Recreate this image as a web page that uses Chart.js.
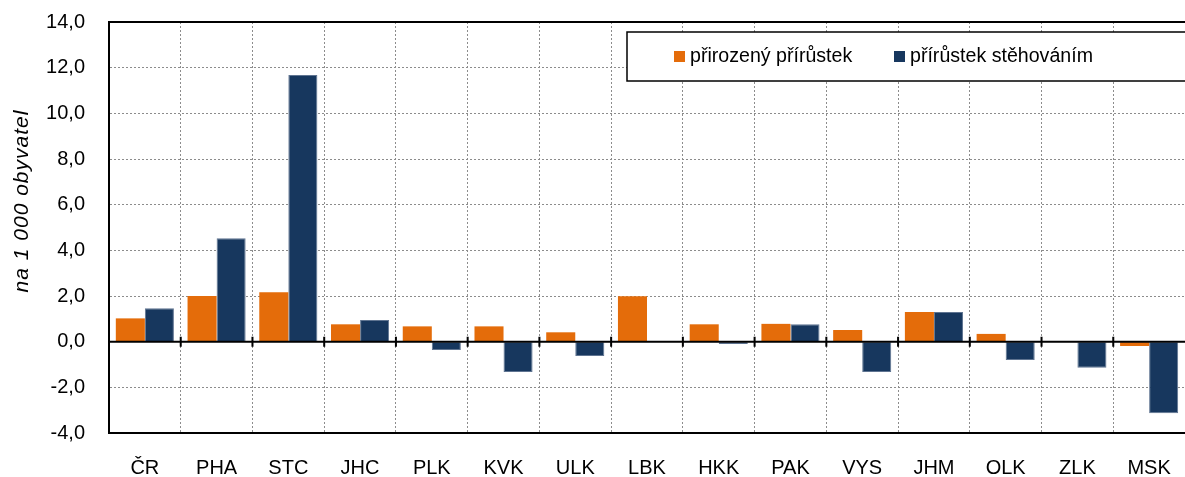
<!DOCTYPE html>
<html>
<head>
<meta charset="utf-8">
<script src="https://cdn.jsdelivr.net/npm/chart.js@4.4.0/dist/chart.umd.min.js"></script>
<style>
html, body {
    margin: 0;
    padding: 0;
    background: #fff;
}
#wrap {
    width: 1185px;
    height: 477px;
}
</style>
</head>
<body>
<div id="wrap"><canvas id="bilance"></canvas></div>
<script>
var kraje = ["ČR", "PHA", "STC", "JHC", "PLK", "KVK", "ULK", "LBK", "HKK", "PAK", "VYS", "JHM", "OLK", "ZLK", "MSK"];
var prirozeny = [1.02, 2.0, 2.16, 0.76, 0.67, 0.67, 0.41, 1.99, 0.76, 0.78, 0.51, 1.3, 0.34, 0.03, -0.19];
var stehovani = [1.46, 4.53, 11.68, 0.95, -0.36, -1.33, -0.63, 0.03, -0.1, 0.76, -1.33, 1.3, -0.8, -1.14, -3.14];
var nazvyRad = ["přirozený přírůstek", "přírůstek stěhováním"];
var barvy = ["#E46C0A", "#17375E"];
var osaY = { min: -4, max: 14, krok: 2 };
var titulekY = "na 1 000 obyvatel";

var fontRodina = "'Liberation Sans', Arial, sans-serif";

// nulova cara s carkami mezi kraji, horni okraj a legenda v ploše grafu
var doplnky = {
    id: "doplnky",
    afterDatasetsDraw: function(chart) {
        var ctx = chart.ctx;
        var a = chart.chartArea;
        var x = chart.scales.x;
        var y = chart.scales.y;
        var y0 = y.getPixelForValue(0);

        ctx.save();
        ctx.strokeStyle = "#000";
        ctx.lineWidth = 2;
        ctx.beginPath();
        ctx.moveTo(a.left, y0);
        ctx.lineTo(a.right, y0);
        for (var i = 1; i < kraje.length; i++) {
            var xb = (x.getPixelForValue(i - 1) + x.getPixelForValue(i)) / 2;
            ctx.moveTo(xb, y0 - 5);
            ctx.lineTo(xb, y0 + 5);
        }
        ctx.moveTo(a.left - 1, a.top);
        ctx.lineTo(a.right, a.top);
        ctx.stroke();

        // legenda
        var lx = 627, ly = 32, lw = 600, lh = 49;
        ctx.fillStyle = "#fff";
        ctx.fillRect(lx, ly, lw, lh);
        ctx.lineWidth = 1.5;
        ctx.strokeRect(lx, ly, lw, lh);
        var polohy = [674, 894];
        ctx.font = "19.6px " + fontRodina;
        ctx.textBaseline = "middle";
        chart.data.datasets.forEach(function(ds, k) {
            ctx.fillStyle = ds.backgroundColor;
            ctx.fillRect(polohy[k], 51, 11, 11);
            ctx.fillStyle = "#000";
            ctx.fillText(ds.label, polohy[k] + 16, 57);
        });

        // popis osy Y
        ctx.translate(22, 201);
        ctx.rotate(-Math.PI / 2);
        ctx.font = "italic 21px " + fontRodina;
        ctx.letterSpacing = "1px";
        ctx.textAlign = "center";
        ctx.fillText(titulekY, 0, 0);
        ctx.restore();
    }
};

var ctx = document.getElementById("bilance").getContext("2d");
var graf = new Chart(ctx, {
    type: "bar",
    data: {
        labels: kraje,
        datasets: [{
            label: nazvyRad[0],
            data: prirozeny,
            backgroundColor: barvy[0],
            borderWidth: 0
        }, {
            label: nazvyRad[1],
            data: stehovani,
            backgroundColor: barvy[1],
            borderColor: "#5f7491",
            borderWidth: 1
        }]
    },
    options: {
        responsive: true,
        maintainAspectRatio: false,
        animation: false,
        layout: { padding: { top: 22, left: 0, right: 0, bottom: 0 } },
        datasets: { bar: { categoryPercentage: 0.81, barPercentage: 1.0 } },
        plugins: {
            legend: { display: false },
            tooltip: { enabled: false }
        },
        scales: {
            x: {
                grid: { color: "#8c8c8c", lineWidth: 1, drawTicks: false },
                border: { color: "#000", width: 2, dash: [2, 2] },
                ticks: { color: "#000", font: { family: fontRodina, size: 20 }, padding: 23, maxRotation: 0 },
                afterFit: function(s) { s.height = 44; s.paddingLeft = 0; s.paddingRight = 0; }
            },
            y: {
                min: osaY.min,
                max: osaY.max,
                grid: { color: "#8c8c8c", lineWidth: 1, drawTicks: false },
                border: { color: "#000", width: 2, dash: [2, 2] },
                ticks: {
                    stepSize: osaY.krok,
                    color: "#000",
                    font: { family: fontRodina, size: 20 },
                    padding: 24,
                    callback: function(v) { return v.toFixed(1).replace(".", ","); }
                },
                afterFit: function(s) { s.width = 109; s.paddingTop = 0; s.paddingBottom = 0; }
            }
        }
    },
    plugins: [doplnky]
});
</script>
</body>
</html>
